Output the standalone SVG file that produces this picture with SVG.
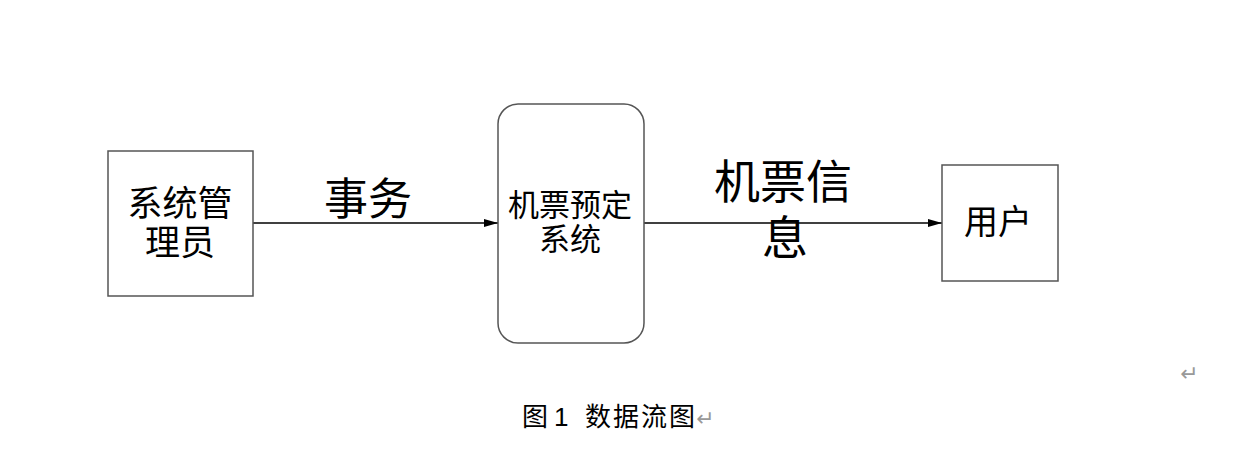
<svg xmlns="http://www.w3.org/2000/svg" width="1244" height="476" viewBox="0 0 1244 476">
<style>
.box{fill:#fff;stroke:#555;stroke-width:1.5}
.t{font-family:"Liberation Serif","Noto Sans CJK SC",serif;fill:#000;text-anchor:middle;dominant-baseline:central}
.c{stroke:#000;stroke-width:1.3;fill:none}
.m{font-family:"DejaVu Sans",sans-serif;fill:#999;font-size:22px}
.cap{font-family:"Liberation Sans","Noto Sans CJK SC",sans-serif;font-size:26px;fill:#000}
</style>
<defs>
<marker id="ah" markerWidth="14" markerHeight="8" refX="14" refY="4" orient="auto" markerUnits="userSpaceOnUse">
<path d="M0,0 L14,4 L0,8 Z" fill="#000"/>
</marker>
</defs>
<rect width="1244" height="476" fill="#fff"/>
<g id="connectors">
<line class="c" x1="253" y1="223" x2="498" y2="223" marker-end="url(#ah)"/>
<line class="c" x1="644" y1="223" x2="942" y2="223" marker-end="url(#ah)"/>
<text class="t" x="368" y="200" font-size="44">事务</text>
<text class="t" x="783" y="182" font-size="46">机票信</text>
<text class="t" x="785" y="238" font-size="46">息</text>
</g>
<g id="admin">
<rect class="box" x="108" y="151" width="145" height="145"/>
<text class="t" x="180" y="204" font-size="35">系统管</text>
<text class="t" x="180" y="243" font-size="35">理员</text>
</g>
<g id="system">
<rect class="box" x="498" y="104" width="146" height="239" rx="20" ry="20"/>
<text class="t" x="570" y="205" font-size="31">机票预定</text>
<text class="t" x="570" y="239" font-size="31">系统</text>
</g>
<g id="user">
<rect class="box" x="942" y="165" width="116" height="116"/>
<text class="t" x="998" y="222" font-size="34">用户</text>
</g>
<g id="caption">
<text class="cap" x="522" y="426">图</text>
<text class="cap" x="554" y="426">1</text>
<text class="cap" x="585" y="426" textLength="110">数据流图</text>
<text class="m" x="696" y="426">↵</text>
<text class="m" x="1180" y="381">↵</text>
</g>
</svg>
